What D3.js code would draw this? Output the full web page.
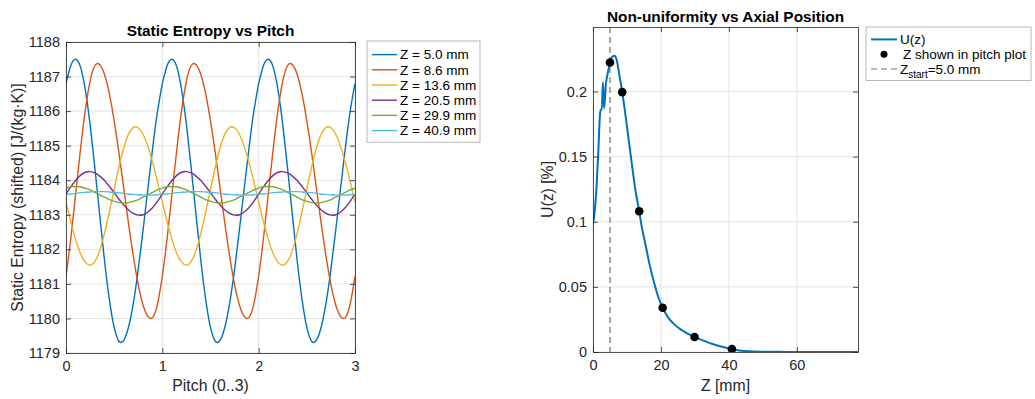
<!DOCTYPE html>
<html><head><meta charset="utf-8">
<script src="https://cdn.jsdelivr.net/npm/d3@7"></script>
<style>
html,body{margin:0;padding:0;background:#fff;}
svg{display:block;font-family:"Liberation Sans",Arial,Helvetica,sans-serif;}
</style></head>
<body><svg id="chart" width="1035" height="399"></svg>
<script>
// ---------- DATA ----------
// Left panel: entropy profile over one pitch (fraction 0..1), repeated for pitches 0..3
const pitchFrac = [0,0.05,0.10,0.15,0.20,0.25,0.30,0.35,0.40,0.45,0.50,0.55,0.60,0.65,0.70,0.75,0.80,0.85,0.90,0.95,1.00];
const pitchStarts = [0,1,2];
const seriesLabels = ["Z = 5.0 mm","Z = 8.6 mm","Z = 13.6 mm","Z = 20.5 mm","Z = 29.9 mm","Z = 40.9 mm"];
const entropyZ50  = [1186.80,1187.32,1187.50,1187.28,1186.62,1185.61,1184.35,1182.99,1181.67,1180.55,1179.74,1179.34,1179.37,1179.76,1180.46,1181.42,1182.56,1183.76,1184.94,1185.99,1186.80];
const entropyZ86  = [1181.22,1182.32,1183.60,1184.89,1186.02,1186.87,1187.32,1187.34,1187.06,1186.50,1185.72,1184.79,1183.76,1182.73,1181.78,1180.98,1180.39,1180.06,1180.03,1180.42,1181.22];
const entropyZ136 = [1183.37,1182.79,1182.28,1181.88,1181.63,1181.54,1181.65,1181.97,1182.47,1183.08,1183.74,1184.39,1184.94,1185.34,1185.53,1185.52,1185.33,1184.98,1184.51,1183.96,1183.37];
const entropyZ205 = [1183.60,1183.81,1183.99,1184.14,1184.23,1184.25,1184.21,1184.12,1183.99,1183.82,1183.64,1183.45,1183.28,1183.14,1183.04,1182.99,1183.00,1183.08,1183.21,1183.39,1183.60];
const entropyZ299 = [1183.77,1183.81,1183.82,1183.81,1183.77,1183.72,1183.65,1183.58,1183.51,1183.44,1183.39,1183.35,1183.34,1183.35,1183.39,1183.44,1183.51,1183.58,1183.65,1183.72,1183.77];
const entropyZ409 = [1183.59,1183.60,1183.62,1183.64,1183.65,1183.66,1183.67,1183.67,1183.67,1183.66,1183.65,1183.64,1183.62,1183.60,1183.59,1183.58,1183.57,1183.57,1183.57,1183.58,1183.59];
const leftYTicks = [1179,1180,1181,1182,1183,1184,1185,1186,1187,1188];
const leftXTicks = [0,1,2,3];

// Right panel: non-uniformity vs axial position
const zAxial = [0,0.5,1.0,1.5,2.0,2.2,2.6,2.9,3.3,3.8,4.2,5.0,5.6,6.3,7.0,7.6,8.6,9.5,10.5,11.5,12.5,13.6,14.5,15.5,16.5,17.7,19.0,20.5,22,24,26,28,29.9,32,35,38,40.9,43,46,50,55,60,65,70,75,78];
const uAxial = [0.098,0.108,0.125,0.150,0.180,0.186,0.186,0.207,0.187,0.206,0.212,0.2222,0.2265,0.2275,0.224,0.215,0.1995,0.183,0.163,0.143,0.124,0.108,0.094,0.082,0.069,0.056,0.044,0.034,0.027,0.021,0.017,0.014,0.0115,0.0093,0.0063,0.0040,0.0022,0.0012,0.0005,0.0002,0.0001,0,0,0,0,0];
const zMarked = [5.0,8.6,13.6,20.5,29.9,40.9];
const uMarked = [0.2222,0.1995,0.108,0.034,0.0115,0.0022];
const zStart = 5.0;
const rightXTicks = [0,20,40,60];
const rightYTicks = [0,0.05,0.1,0.15,0.2];

// ---------- DRAW ----------
const svg = d3.select("#chart");
const colors = ["#0072BD","#D95319","#EDB120","#7E2F8E","#77AC30","#4DBEEE"];
const allSeries = [entropyZ50,entropyZ86,entropyZ136,entropyZ205,entropyZ299,entropyZ409];
const axisColor = "#262626", gridColor = "#e3e3e3";
const tickFont = "14.5px", labelFont = "15.8px", legFont = "13.5px";

function frame(g, x, y, xt, yt) {
  const [X0,X1] = x.range(), [Y1,Y0] = y.range();
  g.append("g").selectAll("line").data(xt).join("line")
    .attr("x1",d=>x(d)).attr("x2",d=>x(d)).attr("y1",Y0).attr("y2",Y1)
    .attr("stroke",gridColor).attr("stroke-width",1);
  g.append("g").selectAll("line").data(yt).join("line")
    .attr("y1",d=>y(d)).attr("y2",d=>y(d)).attr("x1",X0).attr("x2",X1)
    .attr("stroke",gridColor).attr("stroke-width",1);
}
function axesBox(g, x, y, xt, yt, xfmt, yfmt) {
  const [X0,X1] = x.range(), [Y1,Y0] = y.range();
  const ax = g.append("g").attr("transform",`translate(0,${Y1})`)
    .call(d3.axisBottom(x).tickValues(xt).tickFormat(xfmt).tickSizeInner(-5).tickSizeOuter(0).tickPadding(8));
  const ay = g.append("g").attr("transform",`translate(${X0},0)`)
    .call(d3.axisLeft(y).tickValues(yt).tickFormat(yfmt).tickSizeInner(-5).tickSizeOuter(0).tickPadding(6));
  const at = g.append("g").attr("transform",`translate(0,${Y0})`)
    .call(d3.axisTop(x).tickValues(xt).tickFormat("").tickSizeInner(-5).tickSizeOuter(0));
  const ar = g.append("g").attr("transform",`translate(${X1},0)`)
    .call(d3.axisRight(y).tickValues(yt).tickFormat("").tickSizeInner(-5).tickSizeOuter(0));
  [ax,ay,at,ar].forEach(a=>{
    a.select(".domain").attr("stroke",axisColor).attr("stroke-width",0.8);
    a.selectAll(".tick line").attr("stroke",axisColor).attr("stroke-width",0.8);
    a.selectAll("text").attr("fill",axisColor).style("font-size",tickFont).style("font-family",'"Liberation Sans",Arial,sans-serif');
  });
}

// ----- Left panel -----
const xL = d3.scaleLinear().domain([0,3]).range([66,355]);
const yL = d3.scaleLinear().domain([1179,1188]).range([353,42]);
const gL = svg.append("g");
frame(gL,xL,yL,leftXTicks,leftYTicks);
gL.append("clipPath").attr("id","clipL").append("rect").attr("x",66).attr("y",42).attr("width",289).attr("height",311);
const lineL = d3.line().x(d=>xL(d[0])).y(d=>yL(d[1])).curve(d3.curveNatural);
const plotL = gL.append("g").attr("clip-path","url(#clipL)");
allSeries.forEach((vals,si)=>{
  pitchStarts.forEach(p=>{
    const pts = pitchFrac.map((f,i)=>[p+f, vals[i]]);
    plotL.append("path").attr("d",lineL(pts)).attr("fill","none")
      .attr("stroke",colors[si]).attr("stroke-width",1.4);
  });
});
axesBox(gL,xL,yL,leftXTicks,leftYTicks,d3.format("d"),d3.format("d"));
gL.append("text").attr("x",210.5).attr("y",36).attr("text-anchor","middle")
  .style("font-size","15.4px").style("font-weight","bold").attr("fill","#000").text("Static Entropy vs Pitch");
gL.append("text").attr("x",210.5).attr("y",391).attr("text-anchor","middle")
  .style("font-size",labelFont).attr("fill",axisColor).text("Pitch (0..3)");
gL.append("text").attr("transform","translate(23,197.5) rotate(-90)").attr("text-anchor","middle")
  .style("font-size",labelFont).attr("fill",axisColor).text("Static Entropy (shifted) [J/(kg·K)]");

// left legend
const legL = gL.append("g");
const rowH = 15.2, legTop = 41, legX = 367, legW = 113;
legL.append("rect").attr("x",legX).attr("y",legTop).attr("width",legW).attr("height",rowH*6+10)
  .attr("fill","#fff").attr("stroke","#a6a6a6").attr("stroke-width",0.8);
seriesLabels.forEach((lab,i)=>{
  const cy = legTop + 5 + rowH*(i+0.5) + 1;
  legL.append("line").attr("x1",372).attr("x2",397).attr("y1",cy).attr("y2",cy)
    .attr("stroke",colors[i]).attr("stroke-width",1.4);
  legL.append("text").attr("x",400).attr("y",cy).attr("dy","0.35em")
    .style("font-size",legFont).attr("fill","#000").text(lab);
});

// ----- Right panel -----
const xR = d3.scaleLinear().domain([0,78]).range([593,858]);
const yR = d3.scaleLinear().domain([0,0.2495]).range([352,27]);
const gR = svg.append("g");
frame(gR,xR,yR,rightXTicks,rightYTicks);
gR.append("clipPath").attr("id","clipR").append("rect").attr("x",593).attr("y",27).attr("width",265).attr("height",325);
const plotR = gR.append("g").attr("clip-path","url(#clipR)");
plotR.append("line").attr("x1",xR(zStart)).attr("x2",xR(zStart)).attr("y1",yR.range()[1]).attr("y2",yR.range()[0])
  .attr("stroke","#707070").attr("stroke-width",1.2).attr("stroke-dasharray","6,4");
const lineR = d3.line().x(d=>xR(d)).y((d,i)=>yR(uAxial[i])).curve(d3.curveMonotoneX);
plotR.append("path").attr("d",lineR(zAxial)).attr("fill","none").attr("stroke","#0072BD").attr("stroke-width",2);
plotR.append("g").selectAll("circle").data(zMarked).join("circle")
  .attr("cx",d=>xR(d)).attr("cy",(d,i)=>yR(uMarked[i])).attr("r",4.3).attr("fill","#000");
axesBox(gR,xR,yR,rightXTicks,rightYTicks,d3.format("d"),d=>d===0?"0":d3.format("")(d));
gR.append("text").attr("x",725.5).attr("y",22).attr("text-anchor","middle")
  .style("font-size","15.4px").style("font-weight","bold").attr("fill","#000").text("Non-uniformity vs Axial Position");
gR.append("text").attr("x",725.5).attr("y",391).attr("text-anchor","middle")
  .style("font-size",labelFont).attr("fill",axisColor).text("Z [mm]");
gR.append("text").attr("transform","translate(553,189.5) rotate(-90)").attr("text-anchor","middle")
  .style("font-size",labelFont).attr("fill",axisColor).text("U(z) [%]");

// right legend
const legR = gR.append("g");
const rTop = 27, rX = 866, rW = 165, rRow = 14.8;
legR.append("rect").attr("x",rX).attr("y",rTop).attr("width",rW).attr("height",rRow*3+9)
  .attr("fill","#fff").attr("stroke","#a6a6a6").attr("stroke-width",0.8);
const ry = i => rTop + 5 + rRow*(i+0.5);
legR.append("line").attr("x1",871).attr("x2",897).attr("y1",ry(0)).attr("y2",ry(0)).attr("stroke","#0072BD").attr("stroke-width",2);
legR.append("text").attr("x",900).attr("y",ry(0)).attr("dy","0.35em").style("font-size",legFont).text("U(z)");
legR.append("circle").attr("cx",884).attr("cy",ry(1)).attr("r",3.5).attr("fill","#000");
legR.append("text").attr("x",903).attr("y",ry(1)).attr("dy","0.35em").style("font-size",legFont).text("Z shown in pitch plot");
legR.append("line").attr("x1",871).attr("x2",897).attr("y1",ry(2)).attr("y2",ry(2)).attr("stroke","#707070").attr("stroke-width",1.2).attr("stroke-dasharray","6,4");
const t3 = legR.append("text").attr("x",900).attr("y",ry(2)).attr("dy","0.35em").style("font-size",legFont);
t3.append("tspan").text("Z");
t3.append("tspan").attr("dy","4").style("font-size","10px").text("start");
t3.append("tspan").attr("dy","-4").text("=5.0 mm");
</script></body></html>
